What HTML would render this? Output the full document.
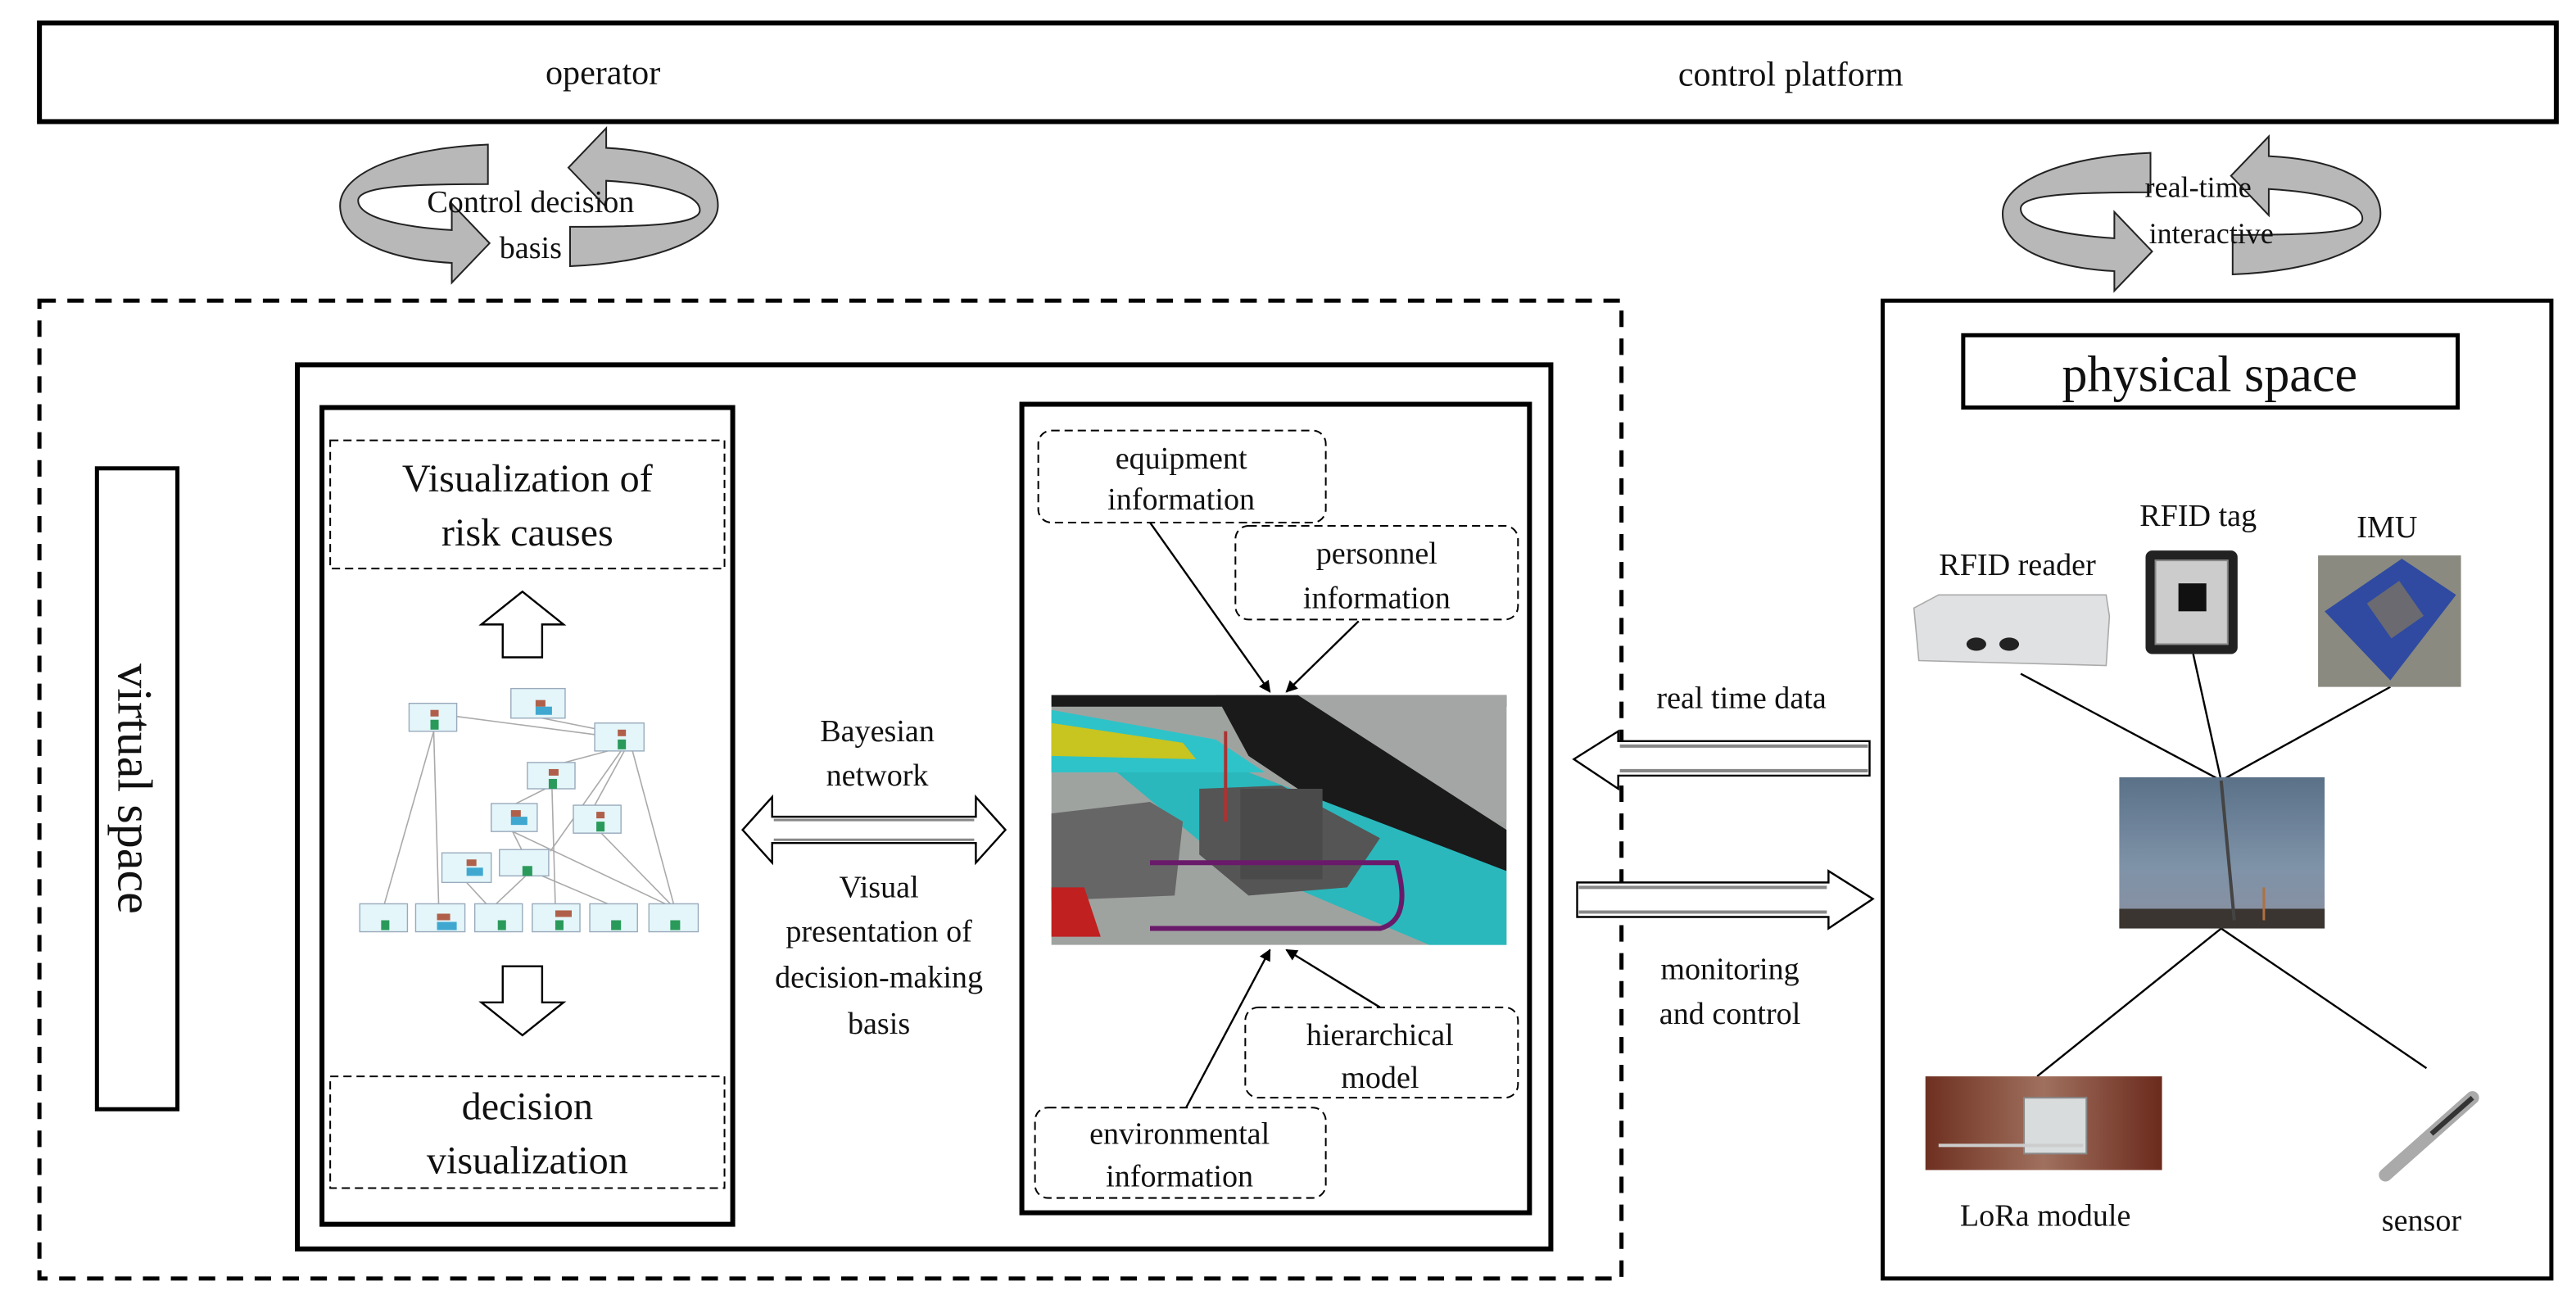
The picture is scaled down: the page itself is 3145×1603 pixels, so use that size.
<!DOCTYPE html>
<html><head><meta charset="utf-8"><style>
html,body{margin:0;padding:0;background:#fff;}
svg{display:block;}
text{font-family:"Liberation Serif",serif;fill:#111;}
</style></head><body>
<svg width="3145" height="1603" viewBox="0 0 1568 799" preserveAspectRatio="none" xmlns="http://www.w3.org/2000/svg">
<defs>
<marker id="ah" viewBox="0 0 10 10" refX="9" refY="5" markerWidth="6" markerHeight="6" orient="auto"><path d="M0,0 L10,5 L0,10 Z" fill="#000"/></marker>
<linearGradient id="sky" x1="0" y1="0" x2="0" y2="1"><stop offset="0" stop-color="#5a7188"/><stop offset="0.6" stop-color="#7f93a8"/><stop offset="1" stop-color="#8a8fa0"/></linearGradient>
<linearGradient id="lora" x1="0" y1="0" x2="1" y2="0"><stop offset="0" stop-color="#6e3020"/><stop offset="0.5" stop-color="#a0705e"/><stop offset="1" stop-color="#6b2a1c"/></linearGradient>
</defs>

<rect x="24" y="14" width="1532" height="60" fill="#fff" stroke="#000" stroke-width="3"/>
<text x="367" y="51" font-size="21" text-anchor="middle">operator</text>
<text x="1090" y="52" font-size="21" text-anchor="middle">control platform</text>

<g stroke="#222" stroke-width="1">
<path d="M297,88 C245,90 207,105 207,125 C207,147 238,158 275,160 L275,172 L298,148 L275,124 L275,140 C242,138 218,132 218,122 C218,113 252,112 297,112 Z" fill="#b8b8b8"/>
<path transform="rotate(180 322 125)" d="M297,88 C245,90 207,105 207,125 C207,147 238,158 275,160 L275,172 L298,148 L275,124 L275,140 C242,138 218,132 218,122 C218,113 252,112 297,112 Z" fill="#b8b8b8"/>
</g>
<text x="323" y="129" font-size="19" text-anchor="middle">Control decision</text>
<text x="323" y="157" font-size="19" text-anchor="middle">basis</text>

<g stroke="#222" stroke-width="1" transform="translate(1012,5)">
<path d="M297,88 C245,90 207,105 207,125 C207,147 238,158 275,160 L275,172 L298,148 L275,124 L275,140 C242,138 218,132 218,122 C218,113 252,112 297,112 Z" fill="#b8b8b8"/>
<path transform="rotate(180 322 125)" d="M297,88 C245,90 207,105 207,125 C207,147 238,158 275,160 L275,172 L298,148 L275,124 L275,140 C242,138 218,132 218,122 C218,113 252,112 297,112 Z" fill="#b8b8b8"/>
</g>
<text x="1338" y="120" font-size="18" text-anchor="middle">real-time</text>
<text x="1346" y="148" font-size="18" text-anchor="middle">interactive</text>

<rect x="24" y="183" width="963" height="595" fill="none" stroke="#000" stroke-width="2.5" stroke-dasharray="10,7"/>
<rect x="59" y="285" width="49" height="390" fill="#fff" stroke="#000" stroke-width="2.5"/>
<text transform="translate(72,480) rotate(90)" font-size="30" text-anchor="middle">virtual space</text>

<rect x="181" y="222" width="763" height="538" fill="none" stroke="#000" stroke-width="3"/>
<rect x="196" y="248" width="250" height="497" fill="none" stroke="#000" stroke-width="3"/>
<rect x="201" y="268" width="240" height="78" fill="none" stroke="#000" stroke-width="1" stroke-dasharray="5,3"/>
<text x="321" y="299" font-size="24" text-anchor="middle">Visualization of</text>
<text x="321" y="332" font-size="24" text-anchor="middle">risk causes</text>
<rect x="201" y="655" width="240" height="68" fill="none" stroke="#000" stroke-width="1" stroke-dasharray="5,3"/>
<text x="321" y="681" font-size="24" text-anchor="middle">decision</text>
<text x="321" y="714" font-size="24" text-anchor="middle">visualization</text>
<path d="M306,400 L306,380 L293,380 L318,360 L343,380 L330,380 L330,400 Z" fill="#fff" stroke="#000" stroke-width="1.2"/>
<path d="M306,588 L306,610 L293,610 L318,630 L343,610 L330,610 L330,588 Z" fill="#fff" stroke="#000" stroke-width="1.2"/>

<g stroke="#aaa" stroke-width="0.8" fill="none">
<line x1="264" y1="445" x2="234" y2="550"/><line x1="264" y1="445" x2="267" y2="550"/>
<line x1="278" y1="436" x2="362" y2="447"/><line x1="330" y1="437" x2="365" y2="444"/>
<line x1="370" y1="457" x2="340" y2="465"/><line x1="380" y1="457" x2="362" y2="490"/>
<line x1="378" y1="457" x2="335" y2="518"/><line x1="385" y1="457" x2="410" y2="550"/>
<line x1="332" y1="480" x2="312" y2="490"/><line x1="336" y1="480" x2="338" y2="550"/>
<line x1="312" y1="506" x2="318" y2="518"/><line x1="312" y1="506" x2="405" y2="550"/>
<line x1="366" y1="507" x2="408" y2="550"/><line x1="284" y1="537" x2="296" y2="550"/>
<line x1="320" y1="533" x2="302" y2="550"/><line x1="330" y1="533" x2="370" y2="550"/>
</g>
<g stroke="#9ab" stroke-width="0.7" fill="#e4f6fa">
<rect x="249" y="428" width="29" height="17"/><rect x="311" y="419" width="33" height="18"/>
<rect x="362" y="440" width="30" height="17"/><rect x="321" y="464" width="29" height="16"/>
<rect x="299" y="489" width="28" height="17"/><rect x="349" y="490" width="29" height="17"/>
<rect x="269" y="519" width="30" height="18"/><rect x="304" y="517" width="30" height="16"/>
<rect x="219" y="550" width="29" height="17"/><rect x="253" y="550" width="30" height="17"/>
<rect x="289" y="550" width="29" height="17"/><rect x="324" y="550" width="29" height="17"/>
<rect x="359" y="550" width="29" height="17"/><rect x="395" y="550" width="30" height="17"/>
</g>
<g fill="#2a9a5a">
<rect x="262" y="438" width="5" height="6"/><rect x="376" y="450" width="5" height="6"/><rect x="334" y="474" width="5" height="6"/>
<rect x="363" y="500" width="5" height="6"/><rect x="318" y="527" width="6" height="6"/>
<rect x="232" y="560" width="5" height="6"/><rect x="303" y="560" width="5" height="6"/><rect x="338" y="560" width="5" height="6"/><rect x="372" y="560" width="6" height="6"/><rect x="408" y="560" width="6" height="6"/>
</g>
<g fill="#40a8d0">
<rect x="326" y="430" width="10" height="5"/><rect x="311" y="497" width="10" height="5"/><rect x="284" y="528" width="10" height="5"/><rect x="266" y="561" width="12" height="5"/>
</g>
<g fill="#b0604a">
<rect x="262" y="432" width="5" height="4"/><rect x="326" y="426" width="6" height="4"/><rect x="376" y="444" width="5" height="4"/><rect x="334" y="468" width="6" height="4"/><rect x="311" y="493" width="6" height="4"/><rect x="363" y="494" width="5" height="4"/><rect x="284" y="523" width="6" height="4"/><rect x="266" y="556" width="8" height="4"/><rect x="338" y="554" width="10" height="4"/>
</g>

<text x="534" y="451" font-size="19" text-anchor="middle">Bayesian</text>
<text x="534" y="478" font-size="19" text-anchor="middle">network</text>
<path d="M452,505 L470,485 L470,497 L594,497 L594,485 L612,505 L594,525 L594,513 L470,513 L470,525 Z" fill="#fff" stroke="#000" stroke-width="1.2"/>
<line x1="471" y1="499" x2="593" y2="499" stroke="#888" stroke-width="1.5"/>
<line x1="471" y1="511" x2="593" y2="511" stroke="#888" stroke-width="1.5"/>
<text x="535" y="546" font-size="19" text-anchor="middle">Visual</text>
<text x="535" y="573" font-size="19" text-anchor="middle">presentation of</text>
<text x="535" y="601" font-size="19" text-anchor="middle">decision-making</text>
<text x="535" y="629" font-size="19" text-anchor="middle">basis</text>

<rect x="622" y="246" width="309" height="492" fill="none" stroke="#000" stroke-width="3"/>
<g>
<rect x="640" y="423" width="277" height="152" fill="#9fa3a0"/>
<polygon points="640,423 917,423 917,430 640,430" fill="#1a1a1a"/>
<polygon points="770,423 917,423 917,500 880,500" fill="#a3a6a4"/>
<polygon points="740,423 790,423 917,505 917,530 850,520 760,460" fill="#1a1a1a"/>
<polygon points="640,432 740,450 770,470 640,470" fill="#2ec3c8"/>
<polygon points="640,440 720,452 728,462 640,460" fill="#c8c420"/>
<polygon points="680,470 760,470 917,530 917,575 870,575 740,520" fill="#2ab8bc"/>
<polygon points="730,480 780,478 840,510 820,540 760,545 730,520" fill="#555"/>
<polygon points="640,495 700,488 720,500 715,545 640,548" fill="#666"/>
<rect x="755" y="480" width="50" height="55" fill="#4a4a4a"/>
<path d="M700,525 L850,525 Q860,560 840,565 L700,565" fill="none" stroke="#6a1a6a" stroke-width="3"/>
<polygon points="640,540 660,540 670,570 640,570" fill="#c02020"/>
<line x1="746" y1="445" x2="746" y2="500" stroke="#a33" stroke-width="2"/>
</g>
<rect x="632" y="262" width="175" height="56" rx="8" fill="#fff" stroke="#000" stroke-width="1" stroke-dasharray="5,3"/>
<text x="719" y="285" font-size="19" text-anchor="middle">equipment</text>
<text x="719" y="310" font-size="19" text-anchor="middle">information</text>
<rect x="752" y="320" width="172" height="57" rx="8" fill="#fff" stroke="#000" stroke-width="1" stroke-dasharray="5,3"/>
<text x="838" y="343" font-size="19" text-anchor="middle">personnel</text>
<text x="838" y="370" font-size="19" text-anchor="middle">information</text>
<rect x="758" y="613" width="166" height="55" rx="8" fill="#fff" stroke="#000" stroke-width="1" stroke-dasharray="5,3"/>
<text x="840" y="636" font-size="19" text-anchor="middle">hierarchical</text>
<text x="840" y="662" font-size="19" text-anchor="middle">model</text>
<rect x="630" y="674" width="177" height="55" rx="8" fill="#fff" stroke="#000" stroke-width="1" stroke-dasharray="5,3"/>
<text x="718" y="696" font-size="19" text-anchor="middle">environmental</text>
<text x="718" y="722" font-size="19" text-anchor="middle">information</text>
<g stroke="#000" stroke-width="1.2" marker-end="url(#ah)">
<line x1="700" y1="318" x2="773" y2="421"/>
<line x1="827" y1="378" x2="783" y2="421"/>
<line x1="722" y1="674" x2="773" y2="578"/>
<line x1="840" y1="613" x2="783" y2="578"/>
</g>

<text x="1060" y="431" font-size="19" text-anchor="middle">real time data</text>
<path d="M958,462 L985,445 L985,451 L1138,451 L1138,472 L985,472 L985,480 Z" fill="#fff" stroke="#000" stroke-width="1.2"/>
<line x1="986" y1="454" x2="1137" y2="454" stroke="#888" stroke-width="2"/>
<line x1="986" y1="469" x2="1137" y2="469" stroke="#888" stroke-width="2"/>
<path d="M1140,547 L1113,530 L1113,537 L960,537 L960,558 L1113,558 L1113,565 Z" fill="#fff" stroke="#000" stroke-width="1.2"/>
<line x1="961" y1="540" x2="1112" y2="540" stroke="#888" stroke-width="2"/>
<line x1="961" y1="555" x2="1112" y2="555" stroke="#888" stroke-width="2"/>
<text x="1053" y="596" font-size="19" text-anchor="middle">monitoring</text>
<text x="1053" y="623" font-size="19" text-anchor="middle">and control</text>

<rect x="1146" y="183" width="407" height="595" fill="none" stroke="#000" stroke-width="2.5"/>
<rect x="1195" y="204" width="301" height="44" fill="#fff" stroke="#000" stroke-width="2.5"/>
<text x="1345" y="238" font-size="31" text-anchor="middle">physical space</text>
<text x="1228" y="350" font-size="19" text-anchor="middle">RFID  reader</text>
<text x="1338" y="320" font-size="19" text-anchor="middle">RFID tag</text>
<text x="1453" y="327" font-size="19" text-anchor="middle">IMU</text>
<g stroke="#000" stroke-width="1.2">
<line x1="1230" y1="410" x2="1352" y2="475"/>
<line x1="1335" y1="398" x2="1352" y2="475"/>
<line x1="1455" y1="418" x2="1352" y2="475"/>
<line x1="1352" y1="565" x2="1240" y2="655"/>
<line x1="1352" y1="565" x2="1477" y2="650"/>
</g>
<polygon points="1165,370 1180,362 1282,362 1284,375 1282,405 1168,402" fill="#dfe1e3" stroke="#aaa" stroke-width="0.8"/>
<ellipse cx="1203" cy="392" rx="6" ry="4" fill="#222"/><ellipse cx="1223" cy="392" rx="6" ry="4" fill="#222"/>
<rect x="1306" y="335" width="56" height="63" rx="4" fill="#222"/>
<rect x="1312" y="341" width="44" height="51" fill="#ccc" stroke="#888"/>
<rect x="1326" y="355" width="17" height="17" fill="#111"/>
<rect x="1411" y="338" width="87" height="80" fill="#8a8a80"/>
<polygon points="1415,372 1462,340 1495,362 1455,414" fill="#2f4aa0"/>
<rect x="1446" y="358" width="24" height="26" fill="#6a6a70" transform="rotate(-35 1458 371)"/>
<rect x="1290" y="473" width="125" height="92" fill="url(#sky)"/>
<rect x="1290" y="553" width="125" height="12" fill="#3a3530"/>
<line x1="1352" y1="475" x2="1360" y2="560" stroke="#444" stroke-width="2"/>
<line x1="1378" y1="540" x2="1378" y2="560" stroke="#b07040" stroke-width="1.5"/>
<rect x="1172" y="655" width="144" height="57" fill="url(#lora)"/>
<rect x="1232" y="668" width="38" height="34" fill="#d8dcdc" stroke="#888"/>
<line x1="1180" y1="697" x2="1268" y2="697" stroke="#ccc" stroke-width="2"/>
<text x="1245" y="746" font-size="19" text-anchor="middle">LoRa module</text>
<line x1="1452" y1="715" x2="1505" y2="668" stroke="#aaa" stroke-width="8" stroke-linecap="round"/>
<line x1="1480" y1="690" x2="1505" y2="668" stroke="#333" stroke-width="3"/>
<text x="1474" y="749" font-size="19" text-anchor="middle">sensor</text>
</svg>
</body></html>
